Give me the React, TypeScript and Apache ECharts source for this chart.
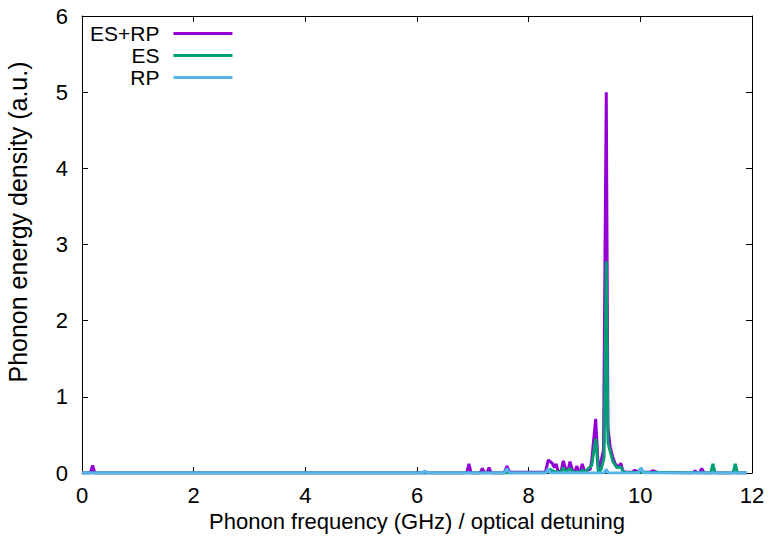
import React, { useEffect, useRef } from "react";
import * as echarts from "echarts";

const seriesNames = ["ES+RP", "ES", "RP"];
const colors = ["#9400D3", "#009E73", "#56B4E9"];
const xTicks = [0, 2, 4, 6, 8, 10, 12];
const yTicks = [0, 1, 2, 3, 4, 5, 6];
const xTitle = "Phonon frequency (GHz) / optical detuning";
const yTitle = "Phonon energy density (a.u.)";

const esrp: [number, number][] = [
  [0, 0], [0.15, 0], [0.19, 0.1], [0.23, 0],
  [6.89, 0], [6.93, 0.12], [6.97, 0],
  [7.13, 0], [7.17, 0.06], [7.21, 0],
  [7.25, 0], [7.29, 0.07], [7.33, 0],
  [7.56, 0], [7.61, 0.09], [7.66, 0.01],
  [8.3, 0.01], [8.35, 0.17], [8.42, 0.13], [8.46, 0.07], [8.49, 0.12], [8.53, 0.02],
  [8.58, 0.02], [8.62, 0.16], [8.67, 0.03], [8.7, 0.02], [8.74, 0.15], [8.79, 0.02],
  [8.83, 0.02], [8.86, 0.09], [8.9, 0.02], [8.93, 0.03], [8.96, 0.12], [9.0, 0.02],
  [9.04, 0.02], [9.07, 0.06], [9.1, 0.04], [9.13, 0.17], [9.2, 0.71], [9.25, 0.02],
  [9.28, 0.1], [9.34, 0.3], [9.39, 5.0], [9.42, 0.6], [9.46, 0.34], [9.51, 0.2],
  [9.55, 0.12], [9.58, 0.1], [9.62, 0.08], [9.65, 0.13], [9.69, 0.02], [9.75, 0.01],
  [9.86, 0.01], [9.9, 0.04], [9.94, 0.01], [10.01, 0.05], [10.06, 0.01],
  [10.18, 0.01], [10.22, 0.03], [10.3, 0.01],
  [10.94, 0], [10.98, 0.03], [11.02, 0], [11.06, 0], [11.1, 0.06], [11.14, 0],
  [11.9, 0],
];

const es: [number, number][] = [
  [0, 0], [8.3, 0], [8.38, 0.05], [8.45, 0.02], [8.58, 0.01], [8.62, 0.07], [8.67, 0.01],
  [8.74, 0.06], [8.79, 0.01], [8.92, 0.01], [8.96, 0.04], [9.0, 0.01], [9.13, 0.1],
  [9.2, 0.45], [9.25, 0.01], [9.3, 0.05], [9.35, 0.2], [9.39, 2.78], [9.42, 0.4],
  [9.46, 0.28], [9.51, 0.15], [9.58, 0.07], [9.65, 0.08], [9.7, 0.01],
  [11.26, 0], [11.3, 0.12], [11.34, 0], [11.66, 0], [11.7, 0.12], [11.74, 0], [11.9, 0],
];

const rp: [number, number][] = [
  [0, 0], [6.1, 0], [6.14, 0.03], [6.18, 0], [7.56, 0], [7.61, 0.06], [7.66, 0],
  [8.31, 0], [8.35, 0.06], [8.39, 0], [9.35, 0], [9.39, 0.05], [9.43, 0],
  [9.96, 0], [10.01, 0.07], [10.06, 0], [11.9, 0],
];

const FONT = "Liberation Sans";
const FS = 22;

export default function App() {
  const ref = useRef<HTMLDivElement>(null);
  useEffect(() => {
    if (!ref.current) return;
    const chart = echarts.init(ref.current, undefined, { renderer: "svg" });
    const data = [esrp, es, rp];
    const tickStyle = { show: true, inside: true, length: 6, lineStyle: { color: "#000", width: 1 } };
    chart.setOption({
      animation: false,
      backgroundColor: "#fff",
      textStyle: { fontFamily: FONT },
      grid: { left: 82, right: 17, top: 16, bottom: 68, show: false },
      legend: {
        show: true,
        left: 85,
        top: 18,
        orient: "vertical",
        align: "right",
        itemWidth: 59,
        itemHeight: 3,
        itemGap: 1,
        icon: "rect",
        data: seriesNames,
        textStyle: { fontFamily: FONT, fontSize: 21, lineHeight: 21, color: "#000", padding: [0, 9, 0, 0] },
      },
      graphic: [
        {
          type: "text",
          x: 18,
          y: 222,
          rotation: Math.PI / 2,
          style: {
            text: yTitle,
            font: `25px "${FONT}"`,
            fill: "#000",
            align: "center",
            verticalAlign: "middle",
          },
        },
      ],
      xAxis: [
        {
          type: "value", min: 0, max: 12, interval: 2,
          name: xTitle,
          nameLocation: "middle", nameGap: 37,
          nameTextStyle: { fontFamily: FONT, fontSize: FS, color: "#000" },
          axisLine: { show: true, onZero: false, lineStyle: { color: "#000", width: 1 } },
          axisTick: tickStyle,
          axisLabel: { fontFamily: FONT, fontSize: FS, color: "#000", margin: 11,
            formatter: (v: number) => (xTicks.includes(v) ? String(v) : "") },
          splitLine: { show: false },
        },
        {
          type: "value", min: 0, max: 12, interval: 2, position: "top",
          axisLine: { show: true, onZero: false, lineStyle: { color: "#000", width: 1 } },
          axisTick: tickStyle, axisLabel: { show: false }, splitLine: { show: false },
        },
      ],
      yAxis: [
        {
          type: "value", min: 0, max: 6, interval: 1,
          axisLine: { show: true, onZero: false, lineStyle: { color: "#000", width: 1 } },
          axisTick: tickStyle,
          axisLabel: { fontFamily: FONT, fontSize: FS, color: "#000", margin: 14,
            formatter: (v: number) => (yTicks.includes(v) ? String(v) : "") },
          splitLine: { show: false },
        },
        {
          type: "value", min: 0, max: 6, interval: 1, position: "right",
          axisLine: { show: true, onZero: false, lineStyle: { color: "#000", width: 1 } },
          axisTick: tickStyle, axisLabel: { show: false }, splitLine: { show: false },
        },
      ],
      series: data.map((d, i) => ({
        name: seriesNames[i],
        type: "line",
        xAxisIndex: 0,
        yAxisIndex: 0,
        data: d,
        showSymbol: false,
        symbol: "none",
        color: colors[i],
        lineStyle: { width: 3, color: colors[i] },
        z: 2 + i,
      })),
    });
    return () => chart.dispose();
  }, []);
  return (
    <div
      ref={ref}
      style={{ position: "absolute", left: 0, top: 0, width: 769, height: 541 }}
    />
  );
}
